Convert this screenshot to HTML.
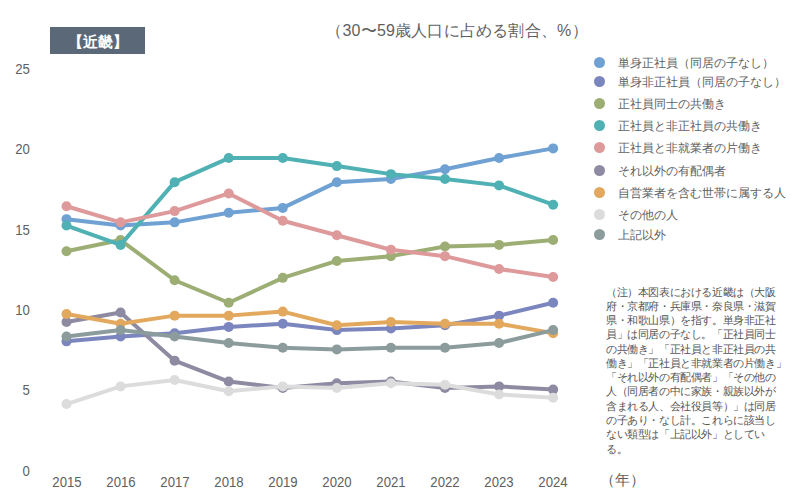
<!DOCTYPE html>
<html lang="ja"><head><meta charset="utf-8"><style>
html,body{margin:0;padding:0;background:#fff;}
body{width:800px;height:500px;position:relative;overflow:hidden;font-family:"Liberation Sans",sans-serif;color:#5f5f5f;}
.badge{position:absolute;left:50px;top:27px;width:95px;height:27px;background:#5b6877;color:#fff;font-size:15px;line-height:29px;text-align:center;font-weight:bold;}
.title{position:absolute;left:257px;width:400px;text-align:center;top:20px;font-size:16px;letter-spacing:0.2px;line-height:22px;white-space:nowrap;}
.yl{position:absolute;left:0;width:30px;text-align:right;font-size:14px;line-height:16px;transform:scaleX(0.94);transform-origin:29px 0;}
.xl{position:absolute;top:474px;width:60px;text-align:center;font-size:14px;line-height:16px;transform:scaleX(0.94);}
.nen{position:absolute;left:599.5px;top:470px;font-size:15px;line-height:20px;}
svg{position:absolute;left:0;top:0;}
.lg{position:absolute;left:594px;height:20px;white-space:nowrap;}
.dot{position:absolute;left:0;top:4.5px;width:11px;height:11px;border-radius:50%;}
.lt{position:absolute;left:24px;top:0.8px;font-size:12.3px;line-height:20px;}
.note{position:absolute;left:606px;top:284.5px;font-size:10.9px;letter-spacing:-0.4px;line-height:14.28px;color:#555;}
.nl{white-space:nowrap;}
</style></head><body>
<div class="badge">【近畿】</div>
<div class="title">（30〜59歳人口に占める割合、%）</div>
<div class="yl" style="top:462.7px">0</div><div class="yl" style="top:382.3px">5</div><div class="yl" style="top:301.9px">10</div><div class="yl" style="top:221.5px">15</div><div class="yl" style="top:141.1px">20</div><div class="yl" style="top:60.7px">25</div>
<div class="xl" style="left:36.5px">2015</div><div class="xl" style="left:90.6px">2016</div><div class="xl" style="left:144.6px">2017</div><div class="xl" style="left:198.7px">2018</div><div class="xl" style="left:252.8px">2019</div><div class="xl" style="left:306.9px">2020</div><div class="xl" style="left:360.9px">2021</div><div class="xl" style="left:415.0px">2022</div><div class="xl" style="left:469.1px">2023</div><div class="xl" style="left:523.1px">2024</div>
<div class="nen">（年）</div>
<svg width="800" height="500" viewBox="0 0 800 500"><g fill="#6fa1d3" stroke="#6fa1d3"><polyline points="66.50,219.15 120.57,225.58 174.64,222.37 228.71,212.72 282.78,207.90 336.85,182.17 390.92,178.95 444.99,169.30 499.06,158.05 553.13,148.40" fill="none" stroke-width="4" stroke-linejoin="round"/><circle cx="66.50" cy="219.15" r="5" stroke="none"/><circle cx="120.57" cy="225.58" r="5" stroke="none"/><circle cx="174.64" cy="222.37" r="5" stroke="none"/><circle cx="228.71" cy="212.72" r="5" stroke="none"/><circle cx="282.78" cy="207.90" r="5" stroke="none"/><circle cx="336.85" cy="182.17" r="5" stroke="none"/><circle cx="390.92" cy="178.95" r="5" stroke="none"/><circle cx="444.99" cy="169.30" r="5" stroke="none"/><circle cx="499.06" cy="158.05" r="5" stroke="none"/><circle cx="553.13" cy="148.40" r="5" stroke="none"/></g><g fill="#7b86bf" stroke="#7b86bf"><polyline points="66.50,341.36 120.57,336.54 174.64,333.32 228.71,326.89 282.78,323.67 336.85,330.10 390.92,328.50 444.99,325.28 499.06,315.63 553.13,302.77" fill="none" stroke-width="4" stroke-linejoin="round"/><circle cx="66.50" cy="341.36" r="5" stroke="none"/><circle cx="120.57" cy="336.54" r="5" stroke="none"/><circle cx="174.64" cy="333.32" r="5" stroke="none"/><circle cx="228.71" cy="326.89" r="5" stroke="none"/><circle cx="282.78" cy="323.67" r="5" stroke="none"/><circle cx="336.85" cy="330.10" r="5" stroke="none"/><circle cx="390.92" cy="328.50" r="5" stroke="none"/><circle cx="444.99" cy="325.28" r="5" stroke="none"/><circle cx="499.06" cy="315.63" r="5" stroke="none"/><circle cx="553.13" cy="302.77" r="5" stroke="none"/></g><g fill="#9cae74" stroke="#9cae74"><polyline points="66.50,251.31 120.57,240.06 174.64,280.26 228.71,302.77 282.78,277.84 336.85,260.96 390.92,256.14 444.99,246.49 499.06,244.88 553.13,240.06" fill="none" stroke-width="4" stroke-linejoin="round"/><circle cx="66.50" cy="251.31" r="5" stroke="none"/><circle cx="120.57" cy="240.06" r="5" stroke="none"/><circle cx="174.64" cy="280.26" r="5" stroke="none"/><circle cx="228.71" cy="302.77" r="5" stroke="none"/><circle cx="282.78" cy="277.84" r="5" stroke="none"/><circle cx="336.85" cy="260.96" r="5" stroke="none"/><circle cx="390.92" cy="256.14" r="5" stroke="none"/><circle cx="444.99" cy="246.49" r="5" stroke="none"/><circle cx="499.06" cy="244.88" r="5" stroke="none"/><circle cx="553.13" cy="240.06" r="5" stroke="none"/></g><g fill="#4fb1b3" stroke="#4fb1b3"><polyline points="66.50,225.58 120.57,244.88 174.64,182.17 228.71,158.05 282.78,158.05 336.85,166.09 390.92,174.13 444.99,178.95 499.06,185.38 553.13,204.68" fill="none" stroke-width="4" stroke-linejoin="round"/><circle cx="66.50" cy="225.58" r="5" stroke="none"/><circle cx="120.57" cy="244.88" r="5" stroke="none"/><circle cx="174.64" cy="182.17" r="5" stroke="none"/><circle cx="228.71" cy="158.05" r="5" stroke="none"/><circle cx="282.78" cy="158.05" r="5" stroke="none"/><circle cx="336.85" cy="166.09" r="5" stroke="none"/><circle cx="390.92" cy="174.13" r="5" stroke="none"/><circle cx="444.99" cy="178.95" r="5" stroke="none"/><circle cx="499.06" cy="185.38" r="5" stroke="none"/><circle cx="553.13" cy="204.68" r="5" stroke="none"/></g><g fill="#de9a9b" stroke="#de9a9b"><polyline points="66.50,206.29 120.57,222.37 174.64,211.11 228.71,193.42 282.78,220.76 336.85,235.23 390.92,249.70 444.99,256.14 499.06,269.00 553.13,277.04" fill="none" stroke-width="4" stroke-linejoin="round"/><circle cx="66.50" cy="206.29" r="5" stroke="none"/><circle cx="120.57" cy="222.37" r="5" stroke="none"/><circle cx="174.64" cy="211.11" r="5" stroke="none"/><circle cx="228.71" cy="193.42" r="5" stroke="none"/><circle cx="282.78" cy="220.76" r="5" stroke="none"/><circle cx="336.85" cy="235.23" r="5" stroke="none"/><circle cx="390.92" cy="249.70" r="5" stroke="none"/><circle cx="444.99" cy="256.14" r="5" stroke="none"/><circle cx="499.06" cy="269.00" r="5" stroke="none"/><circle cx="553.13" cy="277.04" r="5" stroke="none"/></g><g fill="#8e8aa2" stroke="#8e8aa2"><polyline points="66.50,322.06 120.57,312.42 174.64,360.66 228.71,381.56 282.78,387.99 336.85,383.17 390.92,381.56 444.99,387.99 499.06,386.38 553.13,389.60" fill="none" stroke-width="4" stroke-linejoin="round"/><circle cx="66.50" cy="322.06" r="5" stroke="none"/><circle cx="120.57" cy="312.42" r="5" stroke="none"/><circle cx="174.64" cy="360.66" r="5" stroke="none"/><circle cx="228.71" cy="381.56" r="5" stroke="none"/><circle cx="282.78" cy="387.99" r="5" stroke="none"/><circle cx="336.85" cy="383.17" r="5" stroke="none"/><circle cx="390.92" cy="381.56" r="5" stroke="none"/><circle cx="444.99" cy="387.99" r="5" stroke="none"/><circle cx="499.06" cy="386.38" r="5" stroke="none"/><circle cx="553.13" cy="389.60" r="5" stroke="none"/></g><g fill="#e2a95e" stroke="#e2a95e"><polyline points="66.50,314.02 120.57,323.67 174.64,315.63 228.71,315.63 282.78,311.61 336.85,325.28 390.92,322.06 444.99,323.67 499.06,323.67 553.13,333.32" fill="none" stroke-width="4" stroke-linejoin="round"/><circle cx="66.50" cy="314.02" r="5" stroke="none"/><circle cx="120.57" cy="323.67" r="5" stroke="none"/><circle cx="174.64" cy="315.63" r="5" stroke="none"/><circle cx="228.71" cy="315.63" r="5" stroke="none"/><circle cx="282.78" cy="311.61" r="5" stroke="none"/><circle cx="336.85" cy="325.28" r="5" stroke="none"/><circle cx="390.92" cy="322.06" r="5" stroke="none"/><circle cx="444.99" cy="323.67" r="5" stroke="none"/><circle cx="499.06" cy="323.67" r="5" stroke="none"/><circle cx="553.13" cy="333.32" r="5" stroke="none"/></g><g fill="#dcdcdc" stroke="#dcdcdc"><polyline points="66.50,404.07 120.57,386.38 174.64,379.95 228.71,391.21 282.78,386.38 336.85,387.99 390.92,383.17 444.99,384.78 499.06,394.42 553.13,397.64" fill="none" stroke-width="4" stroke-linejoin="round"/><circle cx="66.50" cy="404.07" r="5" stroke="none"/><circle cx="120.57" cy="386.38" r="5" stroke="none"/><circle cx="174.64" cy="379.95" r="5" stroke="none"/><circle cx="228.71" cy="391.21" r="5" stroke="none"/><circle cx="282.78" cy="386.38" r="5" stroke="none"/><circle cx="336.85" cy="387.99" r="5" stroke="none"/><circle cx="390.92" cy="383.17" r="5" stroke="none"/><circle cx="444.99" cy="384.78" r="5" stroke="none"/><circle cx="499.06" cy="394.42" r="5" stroke="none"/><circle cx="553.13" cy="397.64" r="5" stroke="none"/></g><g fill="#8c9c9c" stroke="#8c9c9c"><polyline points="66.50,336.54 120.57,330.10 174.64,336.54 228.71,342.97 282.78,347.79 336.85,349.40 390.92,347.79 444.99,347.79 499.06,342.97 553.13,330.10" fill="none" stroke-width="4" stroke-linejoin="round"/><circle cx="66.50" cy="336.54" r="5" stroke="none"/><circle cx="120.57" cy="330.10" r="5" stroke="none"/><circle cx="174.64" cy="336.54" r="5" stroke="none"/><circle cx="228.71" cy="342.97" r="5" stroke="none"/><circle cx="282.78" cy="347.79" r="5" stroke="none"/><circle cx="336.85" cy="349.40" r="5" stroke="none"/><circle cx="390.92" cy="347.79" r="5" stroke="none"/><circle cx="444.99" cy="347.79" r="5" stroke="none"/><circle cx="499.06" cy="342.97" r="5" stroke="none"/><circle cx="553.13" cy="330.10" r="5" stroke="none"/></g></svg>
<div class="lg" style="top:52.4px"><span class="dot" style="background:#6fa1d3"></span><span class="lt">単身正社員（同居の子なし）</span></div><div class="lg" style="top:71.6px"><span class="dot" style="background:#7b86bf"></span><span class="lt">単身非正社員（同居の子なし）</span></div><div class="lg" style="top:93.6px"><span class="dot" style="background:#9cae74"></span><span class="lt">正社員同士の共働き</span></div><div class="lg" style="top:115.4px"><span class="dot" style="background:#4fb1b3"></span><span class="lt">正社員と非正社員の共働き</span></div><div class="lg" style="top:137.5px"><span class="dot" style="background:#de9a9b"></span><span class="lt">正社員と非就業者の片働き</span></div><div class="lg" style="top:160.2px"><span class="dot" style="background:#8e8aa2"></span><span class="lt">それ以外の有配偶者</span></div><div class="lg" style="top:182.6px"><span class="dot" style="background:#e2a95e"></span><span class="lt">自営業者を含む世帯に属する人</span></div><div class="lg" style="top:204.6px"><span class="dot" style="background:#dcdcdc"></span><span class="lt">その他の人</span></div><div class="lg" style="top:224.4px"><span class="dot" style="background:#8c9c9c"></span><span class="lt">上記以外</span></div>
<div class="note"><div class="nl">（注）本図表における近畿は（大阪</div><div class="nl">府・京都府・兵庫県・奈良県・滋賀</div><div class="nl">県・和歌山県）を指す。単身非正社</div><div class="nl">員」は同居の子なし。「正社員同士</div><div class="nl">の共働き」「正社員と非正社員の共</div><div class="nl">働き」「正社員と非就業者の片働き」</div><div class="nl">「それ以外の有配偶者」「その他の</div><div class="nl">人（同居者の中に家族・親族以外が</div><div class="nl">含まれる人、会社役員等）」は同居</div><div class="nl">の子あり・なし計。これらに該当し</div><div class="nl">ない類型は「上記以外」としてい</div><div class="nl">る。</div></div>
</body></html>
